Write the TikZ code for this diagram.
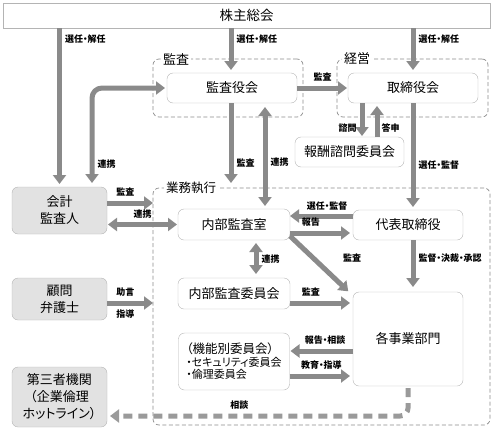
\documentclass[tikz,border=0pt]{standalone}
\usepackage{fontspec}
\setmainfont{Noto Sans CJK JP}[RawFeature=+palt]
\usetikzlibrary{positioning,arrows.meta}
\definecolor{arrgray}{HTML}{8A8A8A}
\definecolor{dashgray}{HTML}{9A9A9A}
\definecolor{boxline}{HTML}{B4B4B4}
\definecolor{boxfill}{HTML}{E2E2E2}
\definecolor{grpline}{HTML}{8C8C8C}
\newcommand{\labsize}{\fontsize{9}{10}\selectfont\bfseries}

\begin{document}
\begin{tikzpicture}[x=1pt, y=-1pt, node distance=38pt,
    box/.style={draw=boxline, rounded corners=6pt, fill=white, inner sep=0pt, outer sep=0pt, align=center, font=\fontsize{13}{17}\selectfont},
    graybox/.style={box, fill=boxfill},
    group/.style={draw=grpline, dash pattern=on 4pt off 2.5pt, rounded corners=6pt, line width=0.7pt, inner sep=0pt, outer sep=0pt},
    grouplabel/.style={fill=white, inner sep=2pt, anchor=west, font=\fontsize{13}{15}\selectfont},
    lab/.style={font=\labsize, inner sep=1pt},
    arrow/.style={draw=arrgray, line width=5pt, -{Triangle[width=13pt,length=9pt]}},
    twoway/.style={arrow, {Triangle[width=13pt,length=9pt]}-{Triangle[width=13pt,length=9pt]}},
    dasharrow/.style={draw=dashgray, line width=5pt, dash pattern=on 9pt off 6pt, -{Triangle[width=13pt,length=9pt]}}]
      \useasboundingbox (0,0) rectangle (493,429);

      \node(gkansa) [group, minimum width=150pt, minimum height=58pt] at (228,88) {};
      \node(gkeiei) [group, minimum width=151pt, minimum height=58pt] at (412.5,88) {};
      \node(ggyomu) [group, minimum width=337pt, minimum height=237pt] at (321.5,306.5) {};
      \node(lkansa) [grouplabel] at ([xshift=8pt]gkansa.north west) {監査};
      \node(lkeiei) [grouplabel] at ([xshift=5pt]gkeiei.north west) {経営};
      \node(lgyomu) [grouplabel, font=\fontsize{12.5}{15}\selectfont] at ([xshift=11pt]ggyomu.north west) {業務執行};

      \node(sh) [draw=boxline, fill=white, inner sep=0pt, minimum width=487pt, minimum height=25pt, font=\fontsize{13.5}{15}\selectfont] at (246.5,15.5) {株主総会};
      \node(kansayaku) [box, minimum width=130pt, minimum height=30pt] at (232,88) {監査役会};
      \node(torishimari) [box, minimum width=130pt, minimum height=30pt] at (413,88) {取締役会};
      \node(hoshu) [box, minimum width=109pt, minimum height=30pt] at (349.5,152) {報酬諮問委員会};
      \node(kaikei) [graybox, minimum width=95pt, minimum height=47pt] at (59.5,210.5) {会計\\監査人};
      \node(naibu) [box, minimum width=112pt, minimum height=31pt] at (234,224.5) {内部監査室};
      \node(daihyo) [box, minimum width=110pt, minimum height=30pt] at (408,225) {代表取締役};
      \node(naibuiin) [box, minimum width=112pt, minimum height=31pt, below=38pt of naibu] {内部監査委員会};
      \node(kinou) [box, minimum width=111pt, minimum height=57pt, below=24pt of naibuiin, align=left, font=\fontsize{11}{12.5}\selectfont] {{\fontsize{12.5}{14}\selectfont（機能別委員会）}\\・セキュリティ委員会\\・倫理委員会};
      \node(jigyo) [box, minimum width=110pt, minimum height=94pt] at (408,339) {各事業部門};
      \node(komon) [graybox, minimum width=95pt, minimum height=42pt] at (59.5,299) {顧問\\弁護士};
      \node(daisan) [graybox, minimum width=95pt, minimum height=60pt] at (59.5,397) {第三者機関\\（企業倫理\\ホットライン）};

      \draw[arrow, shorten >=3pt] (kaikei.north |- sh.south) -- node(lsen1) [lab, right=2pt, pos=0.07] {選任・解任} (kaikei.north);
      \draw[arrow, shorten >=3pt] ([xshift=-1pt]kansayaku.north |- sh.south) -- node(lsen2) [lab, right=2pt, pos=0.24] {選任・解任} ([xshift=-1pt]kansayaku.north);
      \draw[arrow, shorten >=3pt] (torishimari.north |- sh.south) -- node(lsen3) [lab, right=2pt, pos=0.24] {選任・解任} (torishimari.north);
      \draw[arrow, shorten >=1pt] (kansayaku.east) -- node(lkan1) [lab, above=3pt] {監査} (torishimari.west);
      \draw[arrow, shorten >=1pt] ([xshift=-51pt]torishimari.south) -- node(lshimon) [lab, left=2pt, pos=0.73] {諮問} ([xshift=-51pt]torishimari.south |- hoshu.north);
      \draw[arrow, shorten >=3pt] ([xshift=-36pt]torishimari.south |- hoshu.north) -- node(ltoshin) [lab, right=1pt, pos=0.26] {答申} ([xshift=-36pt]torishimari.south);
      \draw[arrow, shorten >=3pt] (torishimari.south) -- node(lsenkan1) [lab, right=2pt, pos=0.58] {選任・監督} (torishimari.south |- daihyo.north);
      \draw[twoway, rounded corners=10pt, shorten <=4pt, shorten >=2pt] ([xshift=-15pt]kaikei.north east) |- node(lren1) [lab, right=2pt, pos=0.116] {連携} (kansayaku.west);
      \draw[arrow, shorten >=5pt] ([xshift=-1pt]kansayaku.south) -- node(lkan2) [lab, right=2pt, pos=0.71] {監査} ([xshift=-1pt]kansayaku.south |- ggyomu.north);
      \draw[twoway, shorten <=4pt, shorten >=3pt] ([xshift=33pt]kansayaku.south) -- node(lren2) [lab, right=2pt, pos=0.56] {連携} ([xshift=33pt]kansayaku.south |- naibu.north);
      \draw[arrow] ([yshift=7.5pt]kaikei.east) -- node(lkan3) [lab, above=3pt, pos=0.4] {監査} ([yshift=7.5pt]kaikei.east -| ggyomu.west);
      \draw[twoway, shorten <=1pt, shorten >=1pt] (kaikei.east |- naibu.west) -- node(lren3) [lab, above=3pt] {連携} (naibu.west);
      \draw[arrow] ([yshift=9pt]daihyo.west) -- node(lsenkan2) [lab, above=2.5pt, pos=0.41] {選任・監督} ([yshift=9pt]daihyo.west -| naibu.east);
      \draw[arrow, shorten >=3pt] ([yshift=-8.5pt]naibu.east) -- node(lhoukoku) [lab, above=3pt, pos=0.33] {報告} ([yshift=-8.5pt]naibu.east -| daihyo.west);
      \draw[arrow, shorten >=1pt] ([yshift=4pt]naibu.south east) -- node(lkan4) [lab, pos=0.4, right=26pt] {監査} ([xshift=-4pt]jigyo.north west);
      \draw[arrow, shorten >=5pt] ([xshift=5pt]daihyo.south) -- node(lkessai) [lab, right=2pt, pos=0.35] {監督・決裁・承認} ([xshift=5pt]daihyo.south |- jigyo.north);
      \draw[twoway, shorten <=3pt, shorten >=4pt] ([xshift=22pt]naibu.south) -- node(lren4) [lab, right=2pt] {連携} ([xshift=22pt]naibu.south |- naibuiin.north);
      \draw[arrow, shorten >=3pt] ([yshift=-9.5pt]naibuiin.east) -- node(lkan5) [lab, above=3pt, pos=0.33] {監査} ([yshift=-9.5pt]naibuiin.east -| jigyo.west);
      \draw[arrow, shorten >=1pt] ([yshift=-12pt]jigyo.west) -- node(lsoudan1) [lab, above=3pt, pos=0.44] {報告・相談} ([yshift=-12pt]jigyo.west -| kinou.east);
      \draw[arrow, shorten >=3pt] ([yshift=-14.5pt]kinou.east) -- node(lkyouiku) [lab, above=3pt] {教育・指導} ([yshift=-14.5pt]kinou.east -| jigyo.west);
      \draw[arrow] ([yshift=-4pt]komon.east) -- node(ljogen) [lab, above=3pt, pos=0.4] {助言} node(lshidou) [lab, below=3pt, pos=0.4] {指導} ([yshift=-4pt]komon.east -| ggyomu.west);
      \draw[dasharrow, rounded corners=8pt, shorten <=2pt, shorten >=3pt] (jigyo.south) |- node(lsoudan2) [lab, above=3pt, pos=0.78] {相談} ([yshift=-19pt]daisan.east);
    \end{tikzpicture}
\end{document}
